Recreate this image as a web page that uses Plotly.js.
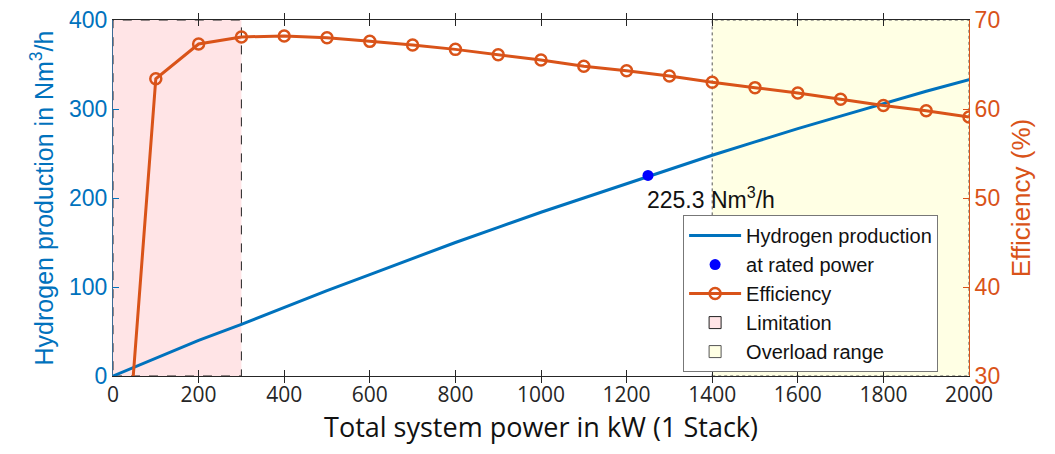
<!DOCTYPE html>
<html>
<head>
<meta charset="utf-8">
<script src="https://cdn.plot.ly/plotly-3.0.1.min.js"></script>
<style>html,body{margin:0;padding:0;background:#fff;}#chart{width:1055px;height:454px;}</style>
</head>
<body>
<div id="chart"></div>
<script>
// ---- data ----
const powerH2 = [0,100,200,300,400,500,600,700,800,900,1000,1100,1200,1300,1400,1500,1600,1700,1800,1900,2000];
const hydrogen = [0,20,40,58,77,96,114,132,150,167,184,200,216,232,248,263,278,292,306,320,333];
const ratedPower = [1250];
const ratedH2 = [225.3];
const powerEff = [0,100,200,300,400,500,600,700,800,900,1000,1100,1200,1300,1400,1500,1600,1700,1800,1900,2000];
const efficiency = [0,63.4,67.3,68.1,68.2,68.0,67.6,67.2,66.7,66.1,65.5,64.8,64.3,63.7,63.0,62.4,61.8,61.1,60.4,59.8,59.1];
const limitationRange = [0,300];
const overloadRange = [1400,2000];
const h2Range = [0,400];
const effRange = [30,70];
const xTicks = [0,200,400,600,800,1000,1200,1400,1600,1800,2000];

const BLUE = '#0072BD', ORANGE = '#D95319', DARK = '#262626';
const SANS = 'Liberation Sans, Arial, sans-serif';
const OPEN = 'Open Sans, Noto Sans, sans-serif';

const traces = [
  {x:powerH2, y:hydrogen, type:'scatter', mode:'lines', name:'Hydrogen production',
   line:{color:BLUE, width:3}, legendrank:1},
  {x:ratedPower, y:ratedH2, type:'scatter', mode:'markers', name:'at rated power',
   marker:{color:'#0000FF', size:11}, legendrank:2},
  {x:powerEff, y:efficiency, type:'scatter', mode:'lines+markers', name:'Efficiency', yaxis:'y2',
   line:{color:ORANGE, width:3}, marker:{symbol:'circle-open', size:11, color:ORANGE, line:{width:2.5, color:ORANGE}},
   legendrank:3}
];

const shapes = [
  {type:'rect', xref:'x', yref:'paper', x0:limitationRange[0], x1:limitationRange[1], y0:0, y1:1,
   fillcolor:'rgb(255,228,230)', line:{color:'#222', width:1, dash:'dash'}, layer:'below',
   showlegend:true, name:'Limitation', legendrank:4},
  {type:'rect', xref:'x', yref:'paper', x0:overloadRange[0], x1:overloadRange[1], y0:0, y1:1,
   fillcolor:'rgb(255,255,228)', line:{color:'#555', width:1, dash:'dot'}, layer:'below',
   showlegend:true, name:'Overload range', legendrank:5}
];

const layout = {
  width:1055, height:454,
  margin:{l:113, r:86, t:20, b:78},
  paper_bgcolor:'#fff', plot_bgcolor:'#fff',
  font:{family:SANS, size:20, color:DARK},
  showlegend:true,
  shapes:shapes,
  legend:{x:0.666, y:0.452, xanchor:'left', yanchor:'top', bgcolor:'#fff', bordercolor:'#777', borderwidth:1,
          font:{family:SANS, size:20, color:'#111'}, itemwidth:52, tracegroupgap:0},
  xaxis:{range:[0,2000], tickvals:xTicks, ticks:'inside', ticklen:6, tickcolor:DARK,
         showline:true, linecolor:DARK, linewidth:1, mirror:'allticks', showgrid:false, zeroline:false,
         tickfont:{family:OPEN, size:21, color:DARK},
         title:{text:'Total system power in kW (1 Stack)', font:{family:OPEN, size:27, color:'#111'}, standoff:2}},
  yaxis:{range:h2Range, dtick:100, ticks:'inside', ticklen:6, tickcolor:BLUE,
         showline:true, linecolor:'#3a6a95', linewidth:1, showgrid:false, zeroline:false,
         tickfont:{family:SANS, size:23, color:BLUE},
         title:{text:'Hydrogen production in Nm<sup>3</sup>/h', font:{family:SANS, size:25, color:BLUE}, standoff:8}},
  yaxis2:{range:effRange, dtick:10, overlaying:'y', side:'right', ticks:'inside', ticklen:6, tickcolor:ORANGE,
          showline:true, linecolor:ORANGE, linewidth:1, showgrid:false, zeroline:false,
          tickfont:{family:SANS, size:23, color:ORANGE},
          title:{text:'Efficiency (%)', font:{family:SANS, size:26, color:ORANGE}, standoff:12}},
  annotations:[{x:ratedPower[0], y:ratedH2[0], xref:'x', yref:'y', text:ratedH2[0].toFixed(1)+' Nm<sup>3</sup>/h',
                showarrow:false, xanchor:'left', yanchor:'top', yshift:-6, xshift:-3,
                font:{family:SANS, size:23, color:'#111'}}]
};

Plotly.newPlot('chart', traces, layout, {displayModeBar:false, staticPlot:true});
</script>
</body>
</html>
